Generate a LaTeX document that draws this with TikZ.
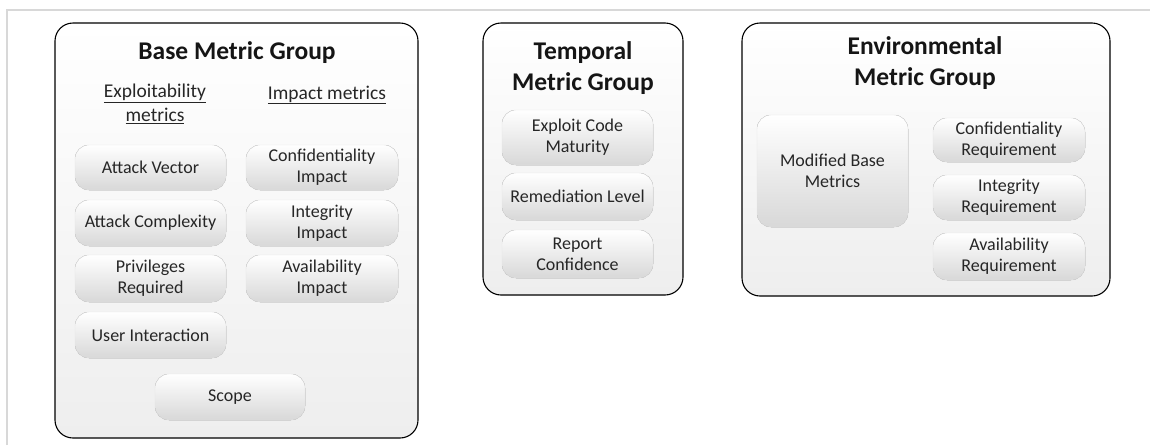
\documentclass[tikz,border=0pt]{standalone}
\usepackage{fontspec}
\setmainfont{Carlito}
\usetikzlibrary{positioning}
\definecolor{txt}{HTML}{262626}
\definecolor{ttl}{HTML}{151515}
\definecolor{pillbot}{HTML}{D8D8D8}
\definecolor{grpbot}{HTML}{EEEEEE}
\definecolor{frame}{HTML}{D8D8D8}
\tikzset{
  group/.style={draw=black, line width=1.1pt, rounded corners=18pt, top color=white, bottom color=grpbot},
  pill/.style={rounded corners=14pt, top color=white, bottom color=pillbot, draw=white!90!black, line width=0.4pt},
  pilltxt/.style={font=\fontsize{18}{21}\selectfont, text=txt, align=center},
  title/.style={font=\fontsize{25.5}{31.5}\selectfont\bfseries, text=ttl, align=center},
  sub/.style={font=\fontsize{19.5}{24}\selectfont, text=txt, align=center},
}
\newcommand{\pillbox}[6]{% name, x1, y1, x2, y2, text
  \fill[pill] (#2,#3) rectangle (#4,#5);
  \node[pilltxt] (#1) at ({(#2+#4)/2},{(#3+#5)/2}) {#6};
}
\begin{document}
\begin{tikzpicture}[x=1pt,y=-1pt]
\useasboundingbox (0,0) rectangle (1150,445);
\fill[white] (0,0) rectangle (1150,445);
% outer frame lines
\draw[frame, line width=1.5pt] (7,445) -- (7,10) -- (1150,10);

% Base group
\path[group] (55,23) rectangle (418,438);
\node[title] (basettl) at (237,53) {Base Metric Group};
\node[sub] (expl) at (155,104) {\underline{Exploitability}\\\underline{metrics}};
\node[sub] (imp) at (327,95) {\underline{Impact metrics}};
\pillbox{av}{75}{145}{226}{190}{Attack Vector}
\pillbox{ac}{75}{200}{226}{246}{Attack Complexity}
\pillbox{pr}{75}{255}{226}{302}{Privileges\\Required}
\pillbox{ui}{75}{312}{226}{358}{User Interaction}
\pillbox{ci}{246}{145}{398}{190}{Confidentiality\\Impact}
\pillbox{ii}{246}{200}{398}{246}{Integrity\\Impact}
\pillbox{ai}{246}{255}{398}{302}{Availability\\Impact}
\pillbox{sc}{155}{374}{305}{420}{Scope}

% Temporal group
\path[group] (483,23) rectangle (683,295);
\node[title] (tempttl) at (583,68) {Temporal\\Metric Group};
\pillbox{ecm}{502}{110}{653}{165}{Exploit Code\\Maturity}
\pillbox{rl}{502}{173}{653}{220}{Remediation Level}
\pillbox{rc}{502}{230}{653}{278}{Report\\Confidence}

% Environmental group
\path[group] (742,23) rectangle (1110,296);
\node[title] (envttl) at (925,63) {Environmental\\Metric Group};
\pillbox{mbm}{757}{115}{908}{227}{Modified Base\\Metrics}
\pillbox{cr}{933}{118}{1085}{162}{Confidentiality\\Requirement}
\pillbox{ir}{933}{175}{1085}{220}{Integrity\\Requirement}
\pillbox{ar}{933}{233}{1085}{280}{Availability\\Requirement}
\end{tikzpicture}
\end{document}
